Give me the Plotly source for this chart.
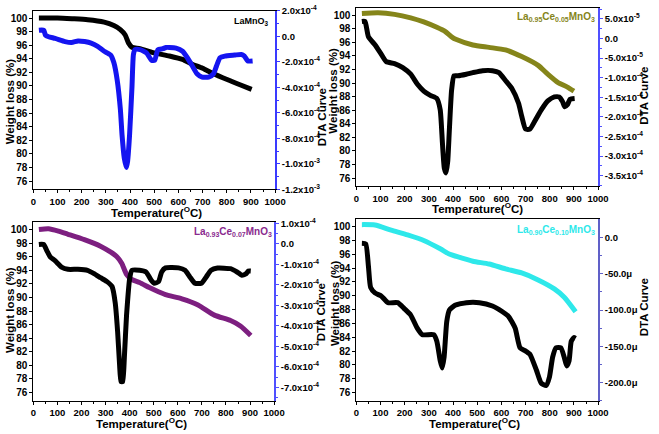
import numpy as np
import plotly.graph_objects as go

# ---------------- data ----------------
temp_ticks = [0, 100, 200, 300, 400, 500, 600, 700, 800, 900, 1000]
wt_ticks = [76, 78, 80, 82, 84, 86, 88, 90, 92, 94, 96, 98, 100]

# Panel 1: LaMnO3
lamno3_tga_T = [23, 100, 160, 225, 293, 333, 360, 380, 394, 408, 441, 495, 563, 617, 657, 700, 745, 819, 860, 903]
lamno3_tga_W = [100.0, 100.0, 99.9, 99.76, 99.4, 98.9, 98.3, 97.5, 96.3, 95.7, 95.5, 94.9, 94.4, 93.9, 93.2, 92.6, 91.8, 90.7, 90.1, 89.5]
lamno3_dta_T = [23, 43, 50, 63, 90, 131, 158, 185, 212, 239, 266, 293, 320, 333, 347, 360, 367, 376, 385, 390, 398, 408,
                414, 421, 441, 468, 489, 502, 515, 536, 549, 563, 590, 617, 637, 657, 677, 698, 725, 745, 758, 772, 792,
                833, 860, 873, 887, 907]
lamno3_dta_e4 = [0.48, 0.48, 0.10, -0.03, -0.16, -0.41, -0.48, -0.36, -0.41, -0.53, -0.79, -1.17, -1.47, -2.06, -3.45,
                 -5.73, -7.76, -9.53, -10.29, -9.79, -7.76, -3.96, -1.42, -1.04, -1.04, -1.29, -1.88, -1.88, -1.05, -0.97,
                 -0.87, -0.87, -0.92, -1.17, -1.68, -2.31, -2.94, -3.20, -3.20, -2.94, -2.31, -1.68, -1.55, -1.47, -1.42,
                 -1.55, -1.93, -1.93]
p1_right_vals = [2e-4, 0, -2e-4, -4e-4, -6e-4, -8e-4, -1.0e-3, -1.2e-3]
p1_right_text = ["2.0x10<sup>-4</sup>", "0.0", "-2.0x10<sup>-4</sup>", "-4.0x10<sup>-4</sup>", "-6.0x10<sup>-4</sup>",
                 "-8.0x10<sup>-4</sup>", "-1.0x10<sup>-3</sup>", "-1.2x10<sup>-3</sup>"]

# Panel 2: La0.95Ce0.05MnO3
ce05_tga_T = [23, 90, 158, 225, 279, 333, 367, 394, 414, 482, 549, 617, 684, 752, 792, 833, 873, 900]
ce05_tga_W = [100.24, 100.33, 100.1, 99.6, 99.0, 98.2, 97.6, 96.8, 96.4, 95.6, 95.25, 94.87, 93.9, 92.6, 91.3, 90.1, 89.4, 88.8]
ce05_dta_T = [23, 36, 50, 77, 104, 124, 158, 192, 225, 252, 279, 306, 333, 347, 356, 364, 371, 378, 385, 394, 404, 421,
              455, 482, 522, 563, 590, 617, 644, 671, 684, 700, 718, 738, 765, 792, 819, 839, 853, 862, 873, 884, 903]
ce05_dta_e5 = [4.34, 4.34, 0.45, -1.6, -4.1, -5.9, -6.4, -7.4, -9.1, -11.6, -13.4, -14.5, -15.3, -18.2, -26.5, -33.1,
               -34.3, -31.4, -23.1, -13.2, -9.5, -9.5, -9.1, -8.7, -8.2, -8.2, -8.7, -10.7, -12.8, -16.5, -19.8, -23.1,
               -23.1, -21.1, -18.2, -15.9, -14.9, -14.9, -16.1, -17.4, -16.9, -15.5, -15.3]
p2_right_vals = [5e-5, 0, -5e-5, -1e-4, -1.5e-4, -2e-4, -2.5e-4, -3e-4, -3.5e-4]
p2_right_text = ["5.0x10<sup>-5</sup>", "0.0", "-5.0x10<sup>-5</sup>", "-1.0x10<sup>-4</sup>", "-1.5x10<sup>-4</sup>",
                 "-2.0x10<sup>-4</sup>", "-2.5x10<sup>-4</sup>", "-3.0x10<sup>-4</sup>", "-3.5x10<sup>-4</sup>"]

# Panel 3: La0.93Ce0.07MnO3
ce07_tga_T = [23, 63, 104, 144, 212, 279, 320, 347, 367, 387, 408, 441, 482, 522, 549, 617, 684, 752, 819, 860, 903]
ce07_tga_W = [100.0, 100.1, 99.76, 99.3, 98.5, 97.55, 96.7, 96.0, 95.05, 93.4, 92.65, 92.2, 91.45, 90.8, 90.4, 89.8,
              88.9, 87.4, 86.6, 85.8, 84.4]
ce07_dta_T = [23, 43, 57, 70, 90, 117, 144, 185, 225, 252, 279, 306, 327, 340, 350, 358, 364, 371, 378, 387, 401, 410,
              441, 468, 489, 502, 520, 533, 549, 603, 630, 650, 671, 698, 718, 738, 765, 819, 846, 866, 884, 893, 903]
ce07_dta_e4 = [-0.03, -0.03, -0.35, -0.63, -0.82, -1.13, -1.24, -1.24, -1.29, -1.45, -1.65, -1.84, -2.08, -2.87, -4.28,
               -5.86, -6.72, -6.72, -5.54, -3.5, -1.61, -1.29, -1.29, -1.37, -1.76, -1.92, -1.84, -1.37, -1.17, -1.17,
               -1.29, -1.61, -1.92, -1.92, -1.61, -1.29, -1.18, -1.21, -1.37, -1.53, -1.45, -1.32, -1.32]
p3_right_vals = [1e-4, 0, -1e-4, -2e-4, -3e-4, -4e-4, -5e-4, -6e-4, -7e-4]
p3_right_text = ["1.0x10<sup>-4</sup>", "0.0", "-1.0x10<sup>-4</sup>", "-2.0x10<sup>-4</sup>", "-3.0x10<sup>-4</sup>",
                 "-4.0x10<sup>-4</sup>", "-5.0x10<sup>-4</sup>", "-6.0x10<sup>-4</sup>", "-7.0x10<sup>-4</sup>"]

# Panel 4: La0.90Ce0.10MnO3
ce10_tga_T = [23, 77, 144, 212, 279, 347, 387, 414, 482, 549, 617, 684, 752, 819, 860, 907]
ce10_tga_W = [100.3, 100.24, 99.5, 98.8, 98.0, 96.8, 96.0, 95.7, 95.0, 94.6, 93.9, 93.3, 92.3, 91.0, 89.8, 87.7]
ce10_dta_T = [23, 39, 50, 59, 77, 104, 131, 171, 198, 225, 252, 273, 320, 333, 347, 355, 363, 374, 385, 408, 455, 509,
              563, 603, 630, 657, 677, 698, 718, 745, 765, 785, 799, 812, 826, 846, 860, 870, 880, 889, 900, 907]
ce10_dta_u = [-8.1, -9.0, -39.5, -68.8, -76.4, -80.9, -89.9, -89.9, -98.0, -107, -125, -134, -134, -143, -170, -180,
              -165, -116, -100, -93.5, -89.9, -89.9, -94.4, -102, -109, -125, -152, -156, -161, -183, -201, -204, -192,
              -165, -152, -152, -165, -177, -170, -143, -138, -139]
p4_right_vals = [0, -50e-6, -100e-6, -150e-6, -200e-6]
p4_right_text = ["0.0", "-50.0\u03bc", "-100.0\u03bc", "-150.0\u03bc", "-200.0\u03bc"]

# ---------------- figure ----------------
W, H = 659, 434
FONT = "Liberation Sans, Arial, sans-serif"
xtickfont = dict(family=FONT, size=9.5, color="black", weight="bold")
ytickfont = dict(family=FONT, size=10, color="black", weight="bold")
rtickfont = dict(family=FONT, size=9.5, color="black", weight="bold")
titlefont = dict(family=FONT, size=11.5, color="black", weight="bold")

def fx(p):
    return p / W

def fy(p):
    return 1 - p / H

panels = [
    dict(x=(31, 278), y=(5, 188), right_range=(-1.2e-3, 2e-4), rv=p1_right_vals, rt=p1_right_text, rcol="#3a3aff",
         tga=(lamno3_tga_T, lamno3_tga_W, "#000000"),
         dta=(lamno3_dta_T, np.array(lamno3_dta_e4) * 1e-4, "#1414f0"),
         label="LaMnO<sub>3</sub>", lab_pos=(274, 16), lab_size=9, lcol="#000000",
         wl=(7, 98), dc=(326, 114), tc=(157, 211), rminor=1e-4),
    dict(x=(361, 608), y=(2, 185), right_range=(-3.77e-4, 7.8e-5), rv=p2_right_vals, rt=p2_right_text, rcol="#5050ff",
         tga=(ce05_tga_T, ce05_tga_W, "#85851a"),
         dta=(ce05_dta_T, np.array(ce05_dta_e5) * 1e-5, "#000000"),
         label="La<sub>0.95</sub>Ce<sub>0.05</sub>MnO<sub>3</sub>", lab_pos=(607, 11), lab_size=10, lcol="#85851a",
         wl=(337, 87), dc=(655, 92), tc=(485, 207.5), rminor=2.5e-5),
    dict(x=(31, 277), y=(222, 405), right_range=(-7.65e-4, 1.05e-4), rv=p3_right_vals, rt=p3_right_text, rcol="#5050ff",
         tga=(ce07_tga_T, ce07_tga_W, "#7d1f80"),
         dta=(ce07_dta_T, np.array(ce07_dta_e4) * 1e-4, "#000000"),
         label="La<sub>0.93</sub>Ce<sub>0.07</sub>MnO<sub>3</sub>", lab_pos=(277, 232), lab_size=10, lcol="#8a2a8e",
         wl=(7, 312), dc=(325, 314), tc=(141, 428), rminor=5e-5),
    dict(x=(361, 608), y=(219, 405), right_range=(-225e-6, 24.8e-6), rv=p4_right_vals, rt=p4_right_text, rcol="#6060c8",
         tga=(ce10_tga_T, ce10_tga_W, "#2ee8ea"),
         dta=(ce10_dta_T, np.array(ce10_dta_u) * 1e-6, "#000000"),
         label="La<sub>0.90</sub>Ce<sub>0.10</sub>MnO<sub>3</sub>", lab_pos=(607, 230), lab_size=10, lcol="#2ee8ea",
         wl=(339, 305), dc=(655, 309), tc=(482, 428), rminor=25e-6),
]

fig = go.Figure()
layout = dict(width=W, height=H, margin=dict(l=0, r=0, t=0, b=0), paper_bgcolor="white",
              plot_bgcolor="white", showlegend=False)
annotations = []

for i, p in enumerate(panels):
    k = i + 1
    xa = "xaxis" if k == 1 else f"xaxis{k}"
    xr = "x" if k == 1 else f"x{k}"
    ly = 2 * k - 1
    ry = 2 * k
    lya = "yaxis" if ly == 1 else f"yaxis{ly}"
    lyr = "y" if ly == 1 else f"y{ly}"
    rya = f"yaxis{ry}"
    ryr = f"y{ry}"

    layout[xa] = dict(domain=[fx(p["x"][0]), fx(p["x"][1])], anchor=lyr, range=[0, 1000],
                      tickmode="array", tickvals=temp_ticks, ticks="outside", ticklen=3, tickwidth=1,
                      tickcolor="black", showline=True, linecolor="black", linewidth=1, mirror=True,
                      showgrid=False, zeroline=False, tickfont=xtickfont,
                      minor=dict(ticks="outside", ticklen=2, dtick=50, tickcolor="black", showgrid=False))
    layout[lya] = dict(domain=[fy(p["y"][1]), fy(p["y"][0])], anchor=xr, range=[74.8, 101.05],
                       tickmode="array", tickvals=wt_ticks, ticks="outside", ticklen=3, tickwidth=1,
                       tickcolor="black", showline=True, linecolor="black", linewidth=1,
                       showgrid=False, zeroline=False, tickfont=ytickfont)
    layout[rya] = dict(overlaying=lyr, side="right", anchor=xr, range=list(p["right_range"]),
                       tickmode="array", tickvals=p["rv"], ticktext=p["rt"], ticks="outside", ticklen=3,
                       tickwidth=1, tickcolor=p["rcol"], showline=True, linecolor=p["rcol"], linewidth=1.5,
                       showgrid=False, zeroline=False, tickfont=rtickfont,
                       minor=dict(ticks="outside", ticklen=2, dtick=p["rminor"], tick0=0,
                                  tickcolor=p["rcol"], showgrid=False))

    tT, tW, tc = p["tga"]
    dT, dV, dc = p["dta"]
    tga_trace = go.Scatter(x=tT, y=tW, mode="lines", line=dict(color=tc, width=5, shape="spline", smoothing=0.6),
                           xaxis=xr, yaxis=lyr, name="TGA")
    dta_trace = go.Scatter(x=dT, y=dV, mode="lines", line=dict(color=dc, width=5, shape="spline", smoothing=0.5),
                           xaxis=xr, yaxis=ryr, name="DTA")
    fig.add_trace(tga_trace)
    fig.add_trace(dta_trace)

    annotations.append(dict(text="<b>" + p["label"] + "</b>", x=fx(p["lab_pos"][0]), y=fy(p["lab_pos"][1]),
                            xref="paper", yref="paper", xanchor="right", yanchor="middle", showarrow=False,
                            font=dict(family=FONT, size=p["lab_size"], color=p["lcol"])))
    annotations.append(dict(text="Weight loss (%)", x=fx(p["wl"][0]), y=fy(p["wl"][1]), xref="paper", yref="paper",
                            xanchor="center", yanchor="middle", textangle=-90, showarrow=False, font=titlefont))
    annotations.append(dict(text="DTA Curve", x=fx(p["dc"][0]), y=fy(p["dc"][1]), xref="paper", yref="paper",
                            xanchor="center", yanchor="middle", textangle=-90, showarrow=False, font=titlefont))
    annotations.append(dict(text="Temperature(<sup>O</sup>C)", x=fx(p["tc"][0]), y=fy(p["tc"][1]), xref="paper",
                            yref="paper", xanchor="center", yanchor="middle", showarrow=False, font=titlefont))

layout["annotations"] = annotations
fig.update_layout(**layout)

fig.write_html("out.html", config={"displayModeBar": False},
               post_script="document.body.style.margin='0';")
